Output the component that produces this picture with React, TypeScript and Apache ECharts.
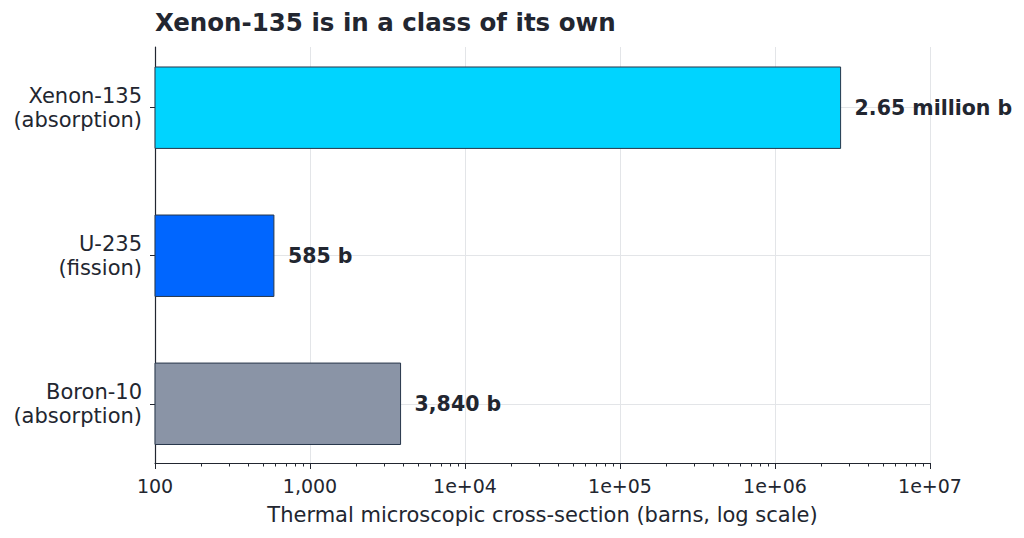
import {useEffect, useRef} from "react";
import * as echarts from "echarts";

const categories = ["Xenon-135\n(absorption)", "U-235\n(fission)", "Boron-10\n(absorption)"];
const values = [2650000, 585, 3840];
const colors = ["#00d4ff", "#0066ff", "#8a94a6"];
const majorTicks = [100, 1000, 10000, 100000, 1000000, 10000000];
const minorTicks = [2, 3, 4, 5, 6, 7, 8, 9].flatMap(m => [100, 1000, 10000, 100000, 1000000].map(d => m * d));

const FONT = "DejaVu Sans";
const INK = "#222630";

function formatBarLabel(v: number): string {
    if (v >= 1e6) return `${(v / 1e6).toFixed(2)} million b`;
    return `${v.toLocaleString("en-US")} b`;
}

function formatTick(v: number): string {
    if (v <= 1000) return v.toLocaleString("en-US");
    const e = Math.round(Math.log10(v));
    return `1e+${String(e).padStart(2, "0")}`;
}

export default function App() {
    const domRef = useRef<HTMLDivElement>(null);

    useEffect(() => {
        if (!domRef.current) return;
        const chart = echarts.init(domRef.current, null, {renderer: "svg"});
        const half = 0.275;
        chart.setOption({
            animation: false,
            textStyle: {fontFamily: FONT},
            title: {
                text: "Xenon-135 is in a class of its own",
                left: 150,
                top: 5,
                textStyle: {fontFamily: FONT, fontSize: 24.5, fontWeight: "bold", color: INK},
            },
            grid: {left: 155, right: 94, top: 47, bottom: 75},
            xAxis: [
                {
                    type: "log",
                    logBase: 10,
                    min: 100,
                    max: 1e7,
                    name: "Thermal microscopic cross-section (barns, log scale)",
                    nameLocation: "middle",
                    nameGap: 41,
                    nameTextStyle: {fontFamily: FONT, fontSize: 21, color: INK},
                    axisLine: {show: true, onZero: false, lineStyle: {color: INK, width: 1.2}},
                    axisTick: {show: true, length: 6, customValues: majorTicks, lineStyle: {color: INK}},
                    axisLabel: {
                        customValues: majorTicks,
                        formatter: (v: number) => formatTick(v),
                        fontFamily: FONT, fontSize: 19, color: INK, margin: 13,
                    },
                    splitLine: {show: true, lineStyle: {color: "#e3e5e8", width: 1}},
                },
                {
                    type: "log",
                    logBase: 10,
                    min: 100,
                    max: 1e7,
                    position: "bottom",
                    axisLine: {show: false, onZero: false},
                    axisTick: {show: true, length: 3.5, customValues: minorTicks, lineStyle: {color: INK}},
                    axisLabel: {show: false},
                    splitLine: {show: false},
                },
            ],
            yAxis: {
                type: "value",
                min: -0.41,
                max: 2.4,
                inverse: true,
                axisLine: {show: true, onZero: false, lineStyle: {color: INK, width: 1.2}},
                axisTick: {show: true, length: 5, customValues: [0, 1, 2], lineStyle: {color: INK}},
                axisLabel: {
                    customValues: [0, 1, 2],
                    formatter: (v: number) => categories[Math.round(v)] ?? "",
                    fontFamily: FONT, fontSize: 21, lineHeight: 24, color: INK, margin: 13, align: "right",
                },
                splitLine: {show: true, lineStyle: {color: "#e3e5e8", width: 1}},
            },
            series: [{
                type: "custom",
                xAxisIndex: 0,
                encode: {x: 0, y: 1},
                data: values.map((v, i) => [v, i]),
                renderItem: (params: any, api: any) => {
                    const v = api.value(0);
                    const i = api.value(1);
                    const tl = api.coord([100, i - half]);
                    const br = api.coord([v, i + half]);
                    const mid = api.coord([v, i]);
                    return {
                        type: "group",
                        children: [
                            {
                                type: "rect",
                                shape: {x: tl[0], y: tl[1], width: br[0] - tl[0], height: br[1] - tl[1]},
                                style: {fill: colors[params.dataIndex], stroke: "#27364a", lineWidth: 1},
                            },
                            {
                                type: "text",
                                x: mid[0] + 14,
                                y: mid[1],
                                style: {
                                    text: formatBarLabel(v),
                                    fontFamily: FONT, fontSize: 20.5, fontWeight: "bold", fill: INK,
                                    verticalAlign: "middle", align: "left",
                                },
                            },
                        ],
                    };
                },
            }],
        });
        return () => chart.dispose();
    }, []);

    return <div ref={domRef} style={{position: "absolute", left: 0, top: 0, width: 1024, height: 538}} />;
}
